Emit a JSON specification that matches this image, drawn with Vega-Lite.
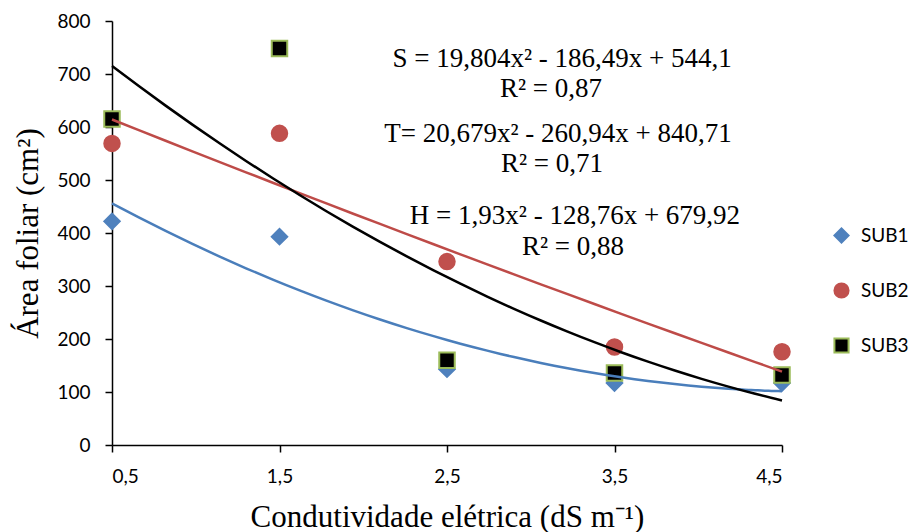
{
  "$schema": "https://vega.github.io/schema/vega-lite/v6.json",
  "width": 670,
  "height": 424,
  "autosize": "none",
  "padding": {"left": 112, "top": 21, "right": 130, "bottom": 87},
  "background": "white",
  "datasets": {
    "pts": [
      {"ce": 0.5, "area": 422, "sub": "SUB1"},
      {"ce": 1.5, "area": 393, "sub": "SUB1"},
      {"ce": 2.5, "area": 143, "sub": "SUB1"},
      {"ce": 3.5, "area": 117, "sub": "SUB1"},
      {"ce": 4.5, "area": 117, "sub": "SUB1"},
      {"ce": 0.5, "area": 569, "sub": "SUB2"},
      {"ce": 1.5, "area": 588, "sub": "SUB2"},
      {"ce": 2.5, "area": 346, "sub": "SUB2"},
      {"ce": 3.5, "area": 185, "sub": "SUB2"},
      {"ce": 4.5, "area": 176, "sub": "SUB2"},
      {"ce": 0.5, "area": 615, "sub": "SUB3"},
      {"ce": 1.5, "area": 748, "sub": "SUB3"},
      {"ce": 2.5, "area": 160, "sub": "SUB3"},
      {"ce": 3.5, "area": 136, "sub": "SUB3"},
      {"ce": 4.5, "area": 132, "sub": "SUB3"}
    ],
    "notes": [
      {"ce": 3.187, "area": 728, "label": "S = 19,804x² - 186,49x + 544,1"},
      {"ce": 3.121, "area": 672, "label": "R² = 0,87"},
      {"ce": 3.163, "area": 587, "label": "T= 20,679x² - 260,94x + 840,71"},
      {"ce": 3.127, "area": 531, "label": "R² = 0,71"},
      {"ce": 3.264, "area": 433, "label": "H = 1,93x² - 128,76x + 679,92"},
      {"ce": 3.252, "area": 373, "label": "R² = 0,88"}
    ]
  },
  "layer": [
    {
      "data": {"name": "pts"},
      "mark": {"type": "point", "filled": true, "strokeWidth": 2, "opacity": 1, "size": 240},
      "encoding": {
        "x": {
          "field": "ce", "type": "quantitative",
          "scale": {"domain": [0.5, 4.5], "nice": false, "zero": false},
          "axis": {
            "values": [0.5, 1.5, 2.5, 3.5, 4.5],
            "labelExpr": "replace(format(datum.value, '.1f'), '.', ',')",
            "title": "Condutividade elétrica (dS m⁻¹)",
            "titleX": 335, "titleY": 72, "titleBaseline": "middle",
            "labelPadding": 15
          }
        },
        "y": {
          "field": "area", "type": "quantitative",
          "scale": {"domain": [0, 800], "nice": false},
          "axis": {
            "values": [0, 100, 200, 300, 400, 500, 600, 700, 800],
            "title": "Área foliar (cm²)",
            "titleX": -84, "titleY": 212, "titleBaseline": "middle", "titleAngle": -90,
            "labelPadding": 15
          }
        },
        "fill": {
          "field": "sub", "type": "nominal",
          "scale": {"domain": ["SUB1", "SUB2", "SUB3"], "range": ["#4F81BD", "#C0504D", "#000000"]},
          "legend": {"title": null, "orient": "none", "legendX": 720, "legendY": 205}
        },
        "stroke": {
          "field": "sub", "type": "nominal",
          "scale": {"domain": ["SUB1", "SUB2", "SUB3"], "range": ["#4F81BD", "#C0504D", "#9BBB59"]},
          "legend": {"title": null, "orient": "none", "legendX": 720, "legendY": 205}
        },
        "shape": {
          "field": "sub", "type": "nominal",
          "scale": {"domain": ["SUB1", "SUB2", "SUB3"], "range": ["diamond", "circle", "square"]},
          "legend": {"title": null, "orient": "none", "legendX": 720, "legendY": 205}
        },
        "order": {"field": "sub", "sort": "ascending"}
      }
    },
    {
      "data": {"name": "pts"},
      "transform": [
        {"regression": "area", "on": "ce", "groupby": ["sub"], "method": "poly", "order": 2, "extent": [0.5, 4.5]}
      ],
      "mark": {"type": "line", "strokeWidth": 2.5, "interpolate": "monotone"},
      "encoding": {
        "x": {"field": "ce", "type": "quantitative"},
        "y": {"field": "area", "type": "quantitative"},
        "color": {
          "field": "sub", "type": "nominal",
          "scale": {"domain": ["SUB1", "SUB2", "SUB3"], "range": ["#4A7EBB", "#BE4B48", "#000000"]},
          "legend": null
        }
      }
    },
    {
      "data": {"name": "notes"},
      "mark": {"type": "text", "font": "Liberation Serif", "fontSize": 27, "align": "center", "baseline": "middle", "color": "black"},
      "encoding": {
        "x": {"field": "ce", "type": "quantitative"},
        "y": {"field": "area", "type": "quantitative"},
        "text": {"field": "label", "type": "nominal"}
      }
    }
  ],
  "config": {
    "view": {"stroke": null},
    "axis": {
      "grid": false,
      "domainColor": "#000000",
      "domainWidth": 1.5,
      "tickColor": "#000000",
      "tickWidth": 1.5,
      "tickSize": 7,
      "labelFont": "Lato",
      "labelFontSize": 19,
      "labelColor": "#000000",
      "titleFont": "Liberation Serif",
      "titleFontSize": 31,
      "titleFontWeight": "normal",
      "titleColor": "#000000"
    },
    "legend": {
      "labelFont": "Lato",
      "labelFontSize": 19,
      "labelColor": "#000000",
      "symbolSize": 200,
      "symbolStrokeWidth": 2,
      "rowPadding": 32,
      "labelOffset": 10
    }
  }
}
